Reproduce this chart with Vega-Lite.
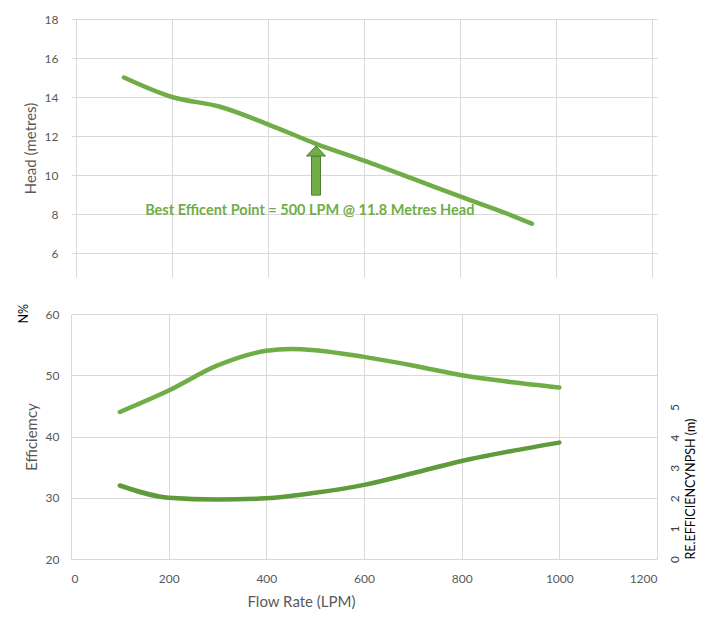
{
  "$schema": "https://vega.github.io/schema/vega-lite/v6.json",
  "padding": {"left": 17, "top": 13, "right": 10, "bottom": 20},
  "background": "#ffffff",
  "config": {
    "view": {"stroke": null},
    "font": "Lato",
    "axis": {
      "grid": true,
      "gridColor": "#d9d9d9",
      "gridWidth": 1,
      "domain": false,
      "ticks": false,
      "labelColor": "#595959",
      "labelFont": "Lato",
      "labelFontSize": 12,
      "titleColor": "#595959",
      "titleFont": "Lato",
      "titleFontSize": 15,
      "titleFontWeight": "normal"
    }
  },
  "datasets": {
    "head": [
      {"flow": 100, "head": 15.0},
      {"flow": 200, "head": 14.0},
      {"flow": 300, "head": 13.5},
      {"flow": 400, "head": 12.6},
      {"flow": 500, "head": 11.6},
      {"flow": 600, "head": 10.74},
      {"flow": 700, "head": 9.83},
      {"flow": 800, "head": 8.9},
      {"flow": 900, "head": 8.0},
      {"flow": 950, "head": 7.5}
    ],
    "arrow": [
      {"flow": 500, "base": 8.97, "neck": 10.97, "tip": 11.23}
    ],
    "note": [
      {"flow": 487, "head": 8.15, "label": "Best Efficent Point = 500 LPM @ 11.8 Metres Head"}
    ],
    "eff": [
      {"flow": 100, "value": 44.0, "series": "upper"},
      {"flow": 200, "value": 47.5, "series": "upper"},
      {"flow": 300, "value": 51.6, "series": "upper"},
      {"flow": 400, "value": 54.0, "series": "upper"},
      {"flow": 450, "value": 54.3, "series": "upper"},
      {"flow": 500, "value": 54.1, "series": "upper"},
      {"flow": 600, "value": 53.0, "series": "upper"},
      {"flow": 700, "value": 51.6, "series": "upper"},
      {"flow": 800, "value": 50.0, "series": "upper"},
      {"flow": 900, "value": 48.9, "series": "upper"},
      {"flow": 1000, "value": 48.0, "series": "upper"},
      {"flow": 100, "value": 32.0, "series": "lower"},
      {"flow": 200, "value": 30.0, "series": "lower"},
      {"flow": 300, "value": 29.7, "series": "lower"},
      {"flow": 400, "value": 29.9, "series": "lower"},
      {"flow": 500, "value": 30.8, "series": "lower"},
      {"flow": 600, "value": 32.1, "series": "lower"},
      {"flow": 700, "value": 34.0, "series": "lower"},
      {"flow": 800, "value": 36.0, "series": "lower"},
      {"flow": 900, "value": 37.6, "series": "lower"},
      {"flow": 1000, "value": 39.0, "series": "lower"}
    ],
    "npsh": [
      {"npsh": 0}
    ]
  },
  "bounds": "flush",
  "spacing": 37,
  "vconcat": [
    {
      "width": 586,
      "height": 258,
      "layer": [
        {
          "data": {"name": "head"},
          "mark": {"type": "line", "color": "#70ad47", "strokeWidth": 4.5, "interpolate": "monotone", "strokeCap": "round"},
          "encoding": {
            "x": {"field": "flow", "type": "quantitative", "scale": {"domain": [0, 1200], "nice": false},
              "axis": {"values": [0, 200, 400, 600, 800, 1000, 1200], "labels": false, "title": null}},
            "y": {"field": "head", "type": "quantitative", "scale": {"domain": [4.77, 18], "nice": false, "zero": false},
              "axis": {"values": [6, 8, 10, 12, 14, 16, 18], "title": "Head (metres)", "labelPadding": 13, "titlePadding": 6}}
          }
        },
        {
          "data": {"name": "arrow"},
          "mark": {"type": "bar", "size": 9, "color": "#70ad47", "stroke": "#507e32", "strokeWidth": 1},
          "encoding": {
            "x": {"field": "flow", "type": "quantitative"},
            "y": {"field": "base", "type": "quantitative"},
            "y2": {"field": "neck"}
          }
        },
        {
          "data": {"name": "arrow"},
          "mark": {"type": "point", "shape": "M-1,0.53L0,-0.53L1,0.53Z", "size": 361, "filled": true, "fill": "#70ad47", "stroke": "#507e32", "strokeWidth": 1, "opacity": 1},
          "encoding": {
            "x": {"field": "flow", "type": "quantitative"},
            "y": {"field": "tip", "type": "quantitative"}
          }
        },
        {
          "data": {"name": "note"},
          "mark": {"type": "text", "font": "Lato", "fontWeight": "bold", "fontSize": 14.5, "color": "#70ad47", "baseline": "middle", "align": "center"},
          "encoding": {
            "x": {"field": "flow", "type": "quantitative"},
            "y": {"field": "head", "type": "quantitative"},
            "text": {"field": "label"}
          }
        }
      ]
    },
    {
      "width": 586,
      "height": 245,
      "title": {"text": "N%", "orient": "left", "anchor": "end", "color": "#000000", "fontSize": 12.5, "fontWeight": "normal", "font": "Lato", "offset": -6, "dx": 4},
      "layer": [
        {
          "data": {"name": "eff"},
          "mark": {"type": "line", "strokeWidth": 4.5, "interpolate": "monotone", "strokeCap": "round"},
          "encoding": {
            "x": {"field": "flow", "type": "quantitative", "scale": {"domain": [0, 1200], "nice": false},
              "axis": {"values": [0, 200, 400, 600, 800, 1000, 1200], "format": "d", "title": "Flow Rate (LPM)", "labelPadding": 14, "titlePadding": 10, "titleX": 230}},
            "y": {"field": "value", "type": "quantitative", "scale": {"domain": [20, 60], "nice": false, "zero": false},
              "axis": {"values": [20, 30, 40, 50, 60], "title": "Efficiemcy", "labelPadding": 12, "titlePadding": 6}},
            "color": {"field": "series", "type": "nominal", "scale": {"domain": ["upper", "lower"], "range": ["#70ad47", "#5f9b3b"]}, "legend": null}
          }
        },
        {
          "data": {"name": "npsh"},
          "mark": {"type": "point", "opacity": 0},
          "encoding": {
            "y": {"field": "npsh", "type": "quantitative", "scale": {"domain": [0, 8.06], "nice": false},
              "axis": {"orient": "right", "grid": false, "values": [0, 1, 2, 3, 4, 5], "labelAngle": 270, "labelAlign": "center", "labelBaseline": "top", "labelColor": "#404040", "labelPadding": 12,
                "title": "RE.EFFICIENCYNPSH (m)", "titleAngle": 270, "titleAnchor": "start", "titleBaseline": "top", "titleColor": "#000000", "titleFontSize": 12.5, "titlePadding": 4}}
          }
        }
      ],
      "resolve": {"scale": {"y": "independent"}}
    }
  ]
}
